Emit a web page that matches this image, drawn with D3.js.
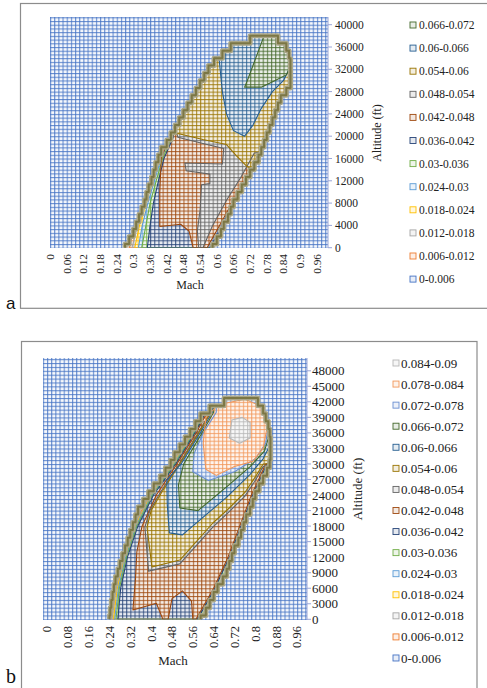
<!DOCTYPE html>
<html>
<head>
<meta charset="utf-8">
<script src="https://cdn.jsdelivr.net/npm/d3@7"></script>
<style>
  body { margin: 0; background: #fff; }
  svg { display: block; }
</style>
</head>
<body>
<svg id="fig" width="487" height="688" font-family="'Liberation Serif', 'DejaVu Serif', serif"></svg>
<script>
// Excel surface-chart band palette (lowest band first)
const bandColors = ["#4472C4","#ED7D31","#A5A5A5","#FFC000","#5B9BD5","#70AD47",
                    "#264478","#9E480E","#636363","#997300","#255E91","#43682B",
                    "#698ED0","#F1975A","#B7B7B7"];

// ---------------- Panel a ----------------
const bandsA = ["0-0.006","0.006-0.012","0.012-0.018","0.018-0.024","0.024-0.03","0.03-0.036",
                "0.036-0.042","0.042-0.048","0.048-0.054","0.054-0.06","0.06-0.066","0.066-0.072"];
const machTicksA = [0,0.06,0.12,0.18,0.24,0.3,0.36,0.42,0.48,0.54,0.6,0.66,0.72,0.78,0.84,0.9,0.96];
const altTicksA = [0,4000,8000,12000,16000,20000,24000,28000,32000,36000,40000];
// flight envelope, one entry per altitude row (left / right Mach limit)
const envAltA   = [0,1333,2667,4000,5333,6667,8000,9333,10667,12000,13333,14667,16000,17333,18667,20000,
                   21333,22667,24000,25333,26667,28000,29333,30667,32000,33333,34667,36000,37333];
const envLeftA  = [0.27,0.285,0.30,0.31,0.32,0.33,0.34,0.347,0.355,0.365,0.373,0.38,0.39,0.40,0.42,0.435,
                   0.45,0.465,0.48,0.495,0.51,0.525,0.54,0.555,0.57,0.59,0.62,0.65,0.72];
const envRightA = [0.585,0.60,0.615,0.625,0.64,0.65,0.66,0.675,0.69,0.705,0.72,0.735,0.75,0.76,0.77,0.78,
                   0.79,0.80,0.81,0.82,0.83,0.85,0.865,0.865,0.865,0.865,0.86,0.85,0.82];
// regions at or above each band threshold: [Mach, altitude]
const a006 = [[0.285,0],[0.305,4000],[0.335,8000],[0.36,12000],[0.385,16000],[0.42,20000],[0.35,30000],[0.5,45000],[1.2,45000],[1.2,0]];
const a012 = [[0.295,0],[0.315,4000],[0.34,8000],[0.365,12000],[0.39,16000],[0.425,20000],[0.35,30000],[0.5,45000],[1.2,45000],[1.2,0]];
const a018 = [[0.305,0],[0.322,4000],[0.345,8000],[0.37,12000],[0.395,16000],[0.43,20000],[0.35,30000],[0.5,45000],[1.2,45000],[1.2,0]];
const a024 = [[0.318,0],[0.332,4000],[0.352,8000],[0.375,12000],[0.40,16000],[0.435,20000],[0.35,30000],[0.5,45000],[1.2,45000],[1.2,0]];
const a030 = [[0.33,0],[0.345,4000],[0.36,8000],[0.382,12000],[0.405,16000],[0.44,20000],[0.35,30000],[0.5,45000],[1.2,45000],[1.2,0]];
const a036 = [[0.35,0],[0.36,4000],[0.372,8000],[0.39,12000],[0.41,16000],[0.445,20000],[0.35,30000],[0.5,45000],[1.2,45000],[1.2,20000],
              [0.77,17500],[0.72,12500],[0.67,8500],[0.625,4000],[0.575,0]];
const a042 = [[0.395,3800],[0.395,10000],[0.40,16000],[0.43,20000],[0.45,21000],[0.35,30000],[0.5,45000],[1.2,45000],[1.2,20000],
              [0.76,17000],[0.71,12500],[0.66,8500],[0.61,4000],[0.565,0],[0.515,0],[0.50,3000],[0.47,4200]];
const a048 = [[0.535,0],[0.53,3000],[0.54,6800],[0.545,11300],[0.575,11500],[0.575,13200],[0.49,13800],[0.485,15200],[0.62,15000],
              [0.625,17800],[0.55,18700],[0.46,19800],[0.45,21500],[0.35,30000],[0.5,45000],[1.2,45000],[1.2,20000],
              [0.735,17000],[0.685,12500],[0.635,8500],[0.585,4000],[0.55,0]];
const a054 = [[0.40,19500],[0.46,20500],[0.55,19400],[0.635,18500],[0.67,16500],[0.71,14500],[0.76,13500],[1.2,14000],[1.2,45000],
              [0.6,45000],[0.66,37000],[0.62,35000],[0.57,32000],[0.51,27000],[0.455,22000]];
const a060 = [[0.60,38000],[0.61,33000],[0.62,28000],[0.635,24000],[0.66,21000],[0.70,20000],[0.73,22000],[0.76,25000],[0.80,28000],
              [0.84,30000],[0.87,33000],[0.87,39000]];
const a066 = [[0.77,38000],[0.74,34000],[0.71,30000],[0.70,28800],[0.76,28800],[0.81,30000],[0.85,31000],[0.88,34000],[0.88,38500]];
const isoA = [a006,a012,a018,a024,a030,a036,a042,a048,a054,a060,a066];

// ---------------- Panel b ----------------
const bandsB = ["0-0.006","0.006-0.012","0.012-0.018","0.018-0.024","0.024-0.03","0.03-0.036","0.036-0.042",
                "0.042-0.048","0.048-0.054","0.054-0.06","0.06-0.066","0.066-0.072","0.072-0.078","0.078-0.084","0.084-0.09"];
const machTicksB = [0,0.08,0.16,0.24,0.32,0.4,0.48,0.56,0.64,0.72,0.8,0.88,0.96];
const altTicksB = [0,3000,6000,9000,12000,15000,18000,21000,24000,27000,30000,33000,36000,39000,42000,45000,48000];
const envAltB   = [0,1500,3000,4500,6000,7500,9000,10500,12000,13500,15000,16500,18000,19500,21000,22500,24000,
                   25500,27000,28500,30000,31500,33000,34500,36000,37500,39000,40500,42000];
const envLeftB  = [0.24,0.243,0.247,0.252,0.257,0.263,0.272,0.28,0.29,0.30,0.31,0.32,0.33,0.34,0.35,0.37,0.39,
                   0.41,0.435,0.455,0.475,0.49,0.51,0.53,0.55,0.57,0.59,0.625,0.68];
const envRightB = [0.59,0.61,0.625,0.64,0.655,0.675,0.69,0.70,0.71,0.72,0.735,0.745,0.755,0.765,0.78,0.79,0.80,
                   0.815,0.83,0.845,0.855,0.858,0.858,0.858,0.855,0.85,0.84,0.83,0.81];
const b006 = [[0.245,0],[0.262,6000],[0.293,12000],[0.333,18000],[0.393,24000],[0.478,30000],[0.553,36000],[0.60,40000],[0.62,55000],[1.2,55000],[1.2,0]];
const b012 = [[0.25,0],[0.266,6000],[0.296,12000],[0.336,18000],[0.396,24000],[0.481,30000],[0.556,36000],[0.60,40000],[0.62,55000],[1.2,55000],[1.2,0]];
const b018 = [[0.255,0],[0.27,6000],[0.299,12000],[0.339,18000],[0.399,24000],[0.484,30000],[0.559,36000],[0.60,40000],[0.62,55000],[1.2,55000],[1.2,0]];
const b024 = [[0.26,0],[0.274,6000],[0.302,12000],[0.342,18000],[0.402,24000],[0.487,30000],[0.562,36000],[0.60,40000],[0.62,55000],[1.2,55000],[1.2,0]];
const b030 = [[0.265,0],[0.278,6000],[0.305,12000],[0.345,18000],[0.405,24000],[0.49,30000],[0.565,36000],[0.605,40000],[0.62,55000],[1.2,55000],[1.2,0]];
const b036 = [[0.272,0],[0.283,6000],[0.309,12000],[0.349,18000],[0.409,24000],[0.494,30000],[0.568,36000],[0.61,40000],[0.62,55000],[1.2,55000],
              [1.2,32000],[0.845,30000],[0.79,24000],[0.745,18000],[0.70,12000],[0.645,6000],[0.578,0]];
const b042 = [[0.33,1800],[0.42,3100],[0.445,0],[0.465,0],[0.48,4000],[0.52,5500],[0.555,3500],[0.56,0],[0.572,0],[0.64,6000],
              [0.695,12000],[0.74,18000],[0.785,24000],[0.84,30000],[1.2,32000],[1.2,55000],[0.63,55000],[0.615,40000],[0.573,36000],
              [0.499,30000],[0.42,24000],[0.365,18000],[0.345,13000],[0.34,8000]];
const b048 = [[0.39,9300],[0.51,10700],[0.637,17800],[0.70,20800],[0.76,23800],[0.80,26800],[0.83,29500],[1.2,30500],[1.2,55000],
              [0.64,55000],[0.627,40000],[0.58,36000],[0.507,30000],[0.435,24500],[0.395,21000],[0.376,17800]];
const b054 = [[0.403,10100],[0.51,11450],[0.637,18600],[0.70,21500],[0.76,24500],[0.80,27500],[0.83,30000],[1.2,31000],[1.2,55000],
              [0.64,55000],[0.63,40000],[0.583,36000],[0.51,30000],[0.44,24500],[0.40,21000],[0.384,17800]];
const b060 = [[0.47,16700],[0.52,16300],[0.69,23600],[0.78,28000],[0.83,31000],[0.85,33000],[1.2,34000],[1.2,55000],[0.64,55000],
              [0.635,40000],[0.588,36000],[0.515,30000],[0.46,26900],[0.462,22000]];
const b066 = [[0.51,21500],[0.58,21000],[0.70,26000],[0.78,29500],[0.835,32500],[0.85,35000],[1.2,36000],[1.2,55000],[0.64,55000],
              [0.64,40000],[0.595,36000],[0.525,30000],[0.505,26000]];
const b072 = [[0.56,28500],[0.62,26800],[0.72,28500],[0.80,31000],[0.84,34000],[0.85,37500],[1.2,38000],[1.2,55000],[0.65,55000],
              [0.65,40000],[0.60,36000],[0.565,32000]];
const b078 = [[0.61,29000],[0.65,27800],[0.72,29500],[0.79,30500],[0.83,33000],[0.845,37000],[0.83,41000],[0.76,42500],[0.66,41500],
              [0.61,39000],[0.60,34000]];
const b084 = [[0.70,35000],[0.71,38500],[0.75,39000],[0.78,38000],[0.78,35000],[0.74,34000]];
const isoB = [b006,b012,b018,b024,b030,b036,b042,b048,b054,b060,b066,b072,b078,b084];

const serif = "'Liberation Serif', 'DejaVu Serif', serif";
const svg = d3.select("#fig");
const defs = svg.append("defs");

function drawPanel(o) {
  const x = d3.scaleLinear().domain([0, 1]).range(o.xRange);
  const y = d3.scaleLinear().domain(o.yDomain).range(o.yRange);
  const cw = x(o.machStep) - x(0), ch = y(0) - y(o.altStep);
  const id = o.id;

  // frame
  svg.append("rect").attr("x", o.frame[0]).attr("y", o.frame[1])
    .attr("width", o.frame[2]).attr("height", o.frame[3])
    .attr("fill", "none").attr("stroke", "#8c8c8c").attr("stroke-width", 1.2);

  // one grid pattern per band colour
  o.bands.forEach((b, i) => {
    const p = defs.append("pattern").attr("id", `${id}p${i}`)
      .attr("patternUnits", "userSpaceOnUse")
      .attr("x", x(0)).attr("y", y(0)).attr("width", cw).attr("height", ch);
    p.append("rect").attr("width", cw).attr("height", ch)
      .attr("fill", d3.interpolateRgb("#ffffff", bandColors[i])(i === 0 ? 0.05 : 0.10));
    p.append("rect").attr("x", 0).attr("y", 0).attr("width", 1.1).attr("height", ch)
      .attr("fill", bandColors[i]).attr("fill-opacity", 0.8);
    p.append("rect").attr("x", 0).attr("y", 0).attr("width", cw).attr("height", 1.1)
      .attr("fill", bandColors[i]).attr("fill-opacity", 0.8);
  });

  const g = svg.append("g");
  // plot background = lowest band
  g.append("rect").attr("x", o.plot[0]).attr("y", o.plot[1])
    .attr("width", o.plot[2] - o.plot[0]).attr("height", o.plot[3] - o.plot[1])
    .attr("fill", `url(#${id}p0)`);

  // envelope outline built from row limits (stepped, one step per data row)
  const h = o.envAlt[1] - o.envAlt[0];
  const leftPts = [], rightPts = [];
  o.envAlt.forEach((a, i) => {
    leftPts.push([o.envLeft[i], Math.max(0, a - h / 2)], [o.envLeft[i], a + h / 2]);
  });
  for (let i = o.envAlt.length - 1; i >= 0; i--) {
    const a = o.envAlt[i];
    rightPts.push([o.envRight[i], a + h / 2], [o.envRight[i], Math.max(0, a - h / 2)]);
  }
  const envPts = leftPts.concat(rightPts);
  const line = d3.line().x(d => x(d[0])).y(d => y(d[1]));

  const clip = defs.append("clipPath").attr("id", `${id}clip`);
  clip.append("path").attr("d", line(envPts) + "Z");
  const plotClip = defs.append("clipPath").attr("id", `${id}plot`);
  plotClip.append("rect").attr("x", o.plot[0]).attr("y", o.plot[1])
    .attr("width", o.plot[2] - o.plot[0]).attr("height", o.plot[3] - o.plot[1]);

  const inner = g.append("g").attr("clip-path", `url(#${id}plot)`)
    .append("g").attr("clip-path", `url(#${id}clip)`);
  // inside the envelope the lowest level is already exceeded
  inner.append("path").attr("d", line(envPts) + "Z").attr("fill", `url(#${id}p1)`);
  o.iso.forEach((poly, k) => {
    inner.append("path").attr("d", line(poly) + "Z")
      .attr("fill", `url(#${id}p${k + 1})`);
  });
  o.iso.forEach((poly, k) => {
    inner.append("path").attr("d", line(poly) + "Z")
      .attr("fill", "none").attr("stroke", bandColors[k + 1])
      .attr("stroke-width", 1.1).attr("stroke-linejoin", "round");
  });

  // thick stepped envelope edge
  const edge = line(envPts);
  g.append("path").attr("d", edge).attr("fill", "none")
    .attr("stroke", "#aaa688").attr("stroke-width", 5).attr("stroke-linejoin", "round")
    .attr("clip-path", `url(#${id}plot)`);
  g.append("path").attr("d", edge).attr("fill", "none")
    .attr("stroke", "#7c7745").attr("stroke-width", 2).attr("stroke-linejoin", "round")
    .attr("clip-path", `url(#${id}plot)`);

  // right-hand altitude axis
  const ax = svg.append("g").attr("font-family", serif).attr("fill", "#222");
  ax.append("line").attr("x1", o.plot[2]).attr("x2", o.plot[2])
    .attr("y1", o.plot[1]).attr("y2", o.plot[3]).attr("stroke", "#9aa6d8");
  o.altTicks.forEach(t => {
    ax.append("line").attr("x1", o.plot[2]).attr("x2", o.plot[2] + 4)
      .attr("y1", y(t)).attr("y2", y(t)).attr("stroke", "#9aa6d8");
    ax.append("text").attr("x", o.plot[2] + o.yLabelGap).attr("y", y(t)).attr("dy", "0.35em")
      .attr("font-size", o.fs).text(t);
  });
  // bottom Mach axis, labels rotated
  o.machTicks.forEach(t => {
    ax.append("text").attr("transform", `translate(${x(t)},${o.plot[3] + o.xLabelGap}) rotate(-90)`)
      .attr("text-anchor", "end").attr("dy", "0.35em").attr("font-size", o.fsx).text(t);
  });
  ax.append("text").attr("x", o.machTitle[0]).attr("y", o.machTitle[1])
    .attr("text-anchor", "middle").attr("font-size", o.fsTitle).text("Mach");
  ax.append("text").attr("transform", `translate(${o.altTitle[0]},${o.altTitle[1]}) rotate(-90)`)
    .attr("text-anchor", "middle").attr("dy", "0.35em").attr("font-size", o.fsTitle).text("Altitude (ft)");

  // legend, highest band first
  const leg = svg.append("g").attr("font-family", serif).attr("fill", "#222");
  const order = o.bands.map((b, i) => i).reverse();
  order.forEach((bi, r) => {
    const ly = o.legend[1] + r * o.legend[2];
    leg.append("rect").attr("x", o.legend[0]).attr("y", ly - 3).attr("width", 6).attr("height", 6)
      .attr("fill", d3.interpolateRgb("#ffffff", bandColors[bi])(0.12))
      .attr("stroke", bandColors[bi]).attr("stroke-width", 0.9);
    leg.append("text").attr("x", o.legend[0] + o.legendGap).attr("y", ly).attr("dy", "0.35em")
      .attr("font-size", o.fsLegend).text(o.bands[bi]);
  });

  svg.append("text").attr("x", o.tag[0]).attr("y", o.tag[1])
    .attr("font-size", o.tag[2]).attr("font-family", o.tag[3]).attr("fill", "#111").text(o.tag[4]);
}

drawPanel({
  id: "a", bands: bandsA, iso: isoA, envAlt: envAltA, envLeft: envLeftA, envRight: envRightA,
  machTicks: machTicksA, altTicks: altTicksA,
  xRange: [50, 328], yDomain: [0, 40000], yRange: [247.7, 24.7],
  machStep: 0.015, altStep: 4000 / 6,
  plot: [50, 17, 328, 248], frame: [20.5, 3.5, 480, 304.8],
  yLabelGap: 7, xLabelGap: 6, fs: 11.5, fsx: 11.3, fsTitle: 12,
  machTitle: [190, 289], altTitle: [377, 133],
  legend: [410, 25, 23.1], legendGap: 9, fsLegend: 11.5,
  tag: [6, 309, 17, "'Liberation Sans', Arial, sans-serif", "a"]
});

drawPanel({
  id: "b", bands: bandsB, iso: isoB, envAlt: envAltB, envLeft: envLeftB, envRight: envRightB,
  machTicks: machTicksB, altTicks: altTicksB,
  xRange: [47, 307.4], yDomain: [0, 48000], yRange: [619.3, 370.8],
  machStep: 0.016, altStep: 750,
  plot: [43, 358, 307, 620], frame: [21.5, 341.5, 455.5, 360],
  yLabelGap: 5, xLabelGap: 6, fs: 13, fsx: 12.5, fsTitle: 13,
  machTitle: [173, 665], altTitle: [357, 489],
  legend: [393, 363, 21.07], legendGap: 8, fsLegend: 13,
  tag: [6, 683, 20, "'Liberation Serif', serif", "b"]
});
</script>
</body>
</html>
